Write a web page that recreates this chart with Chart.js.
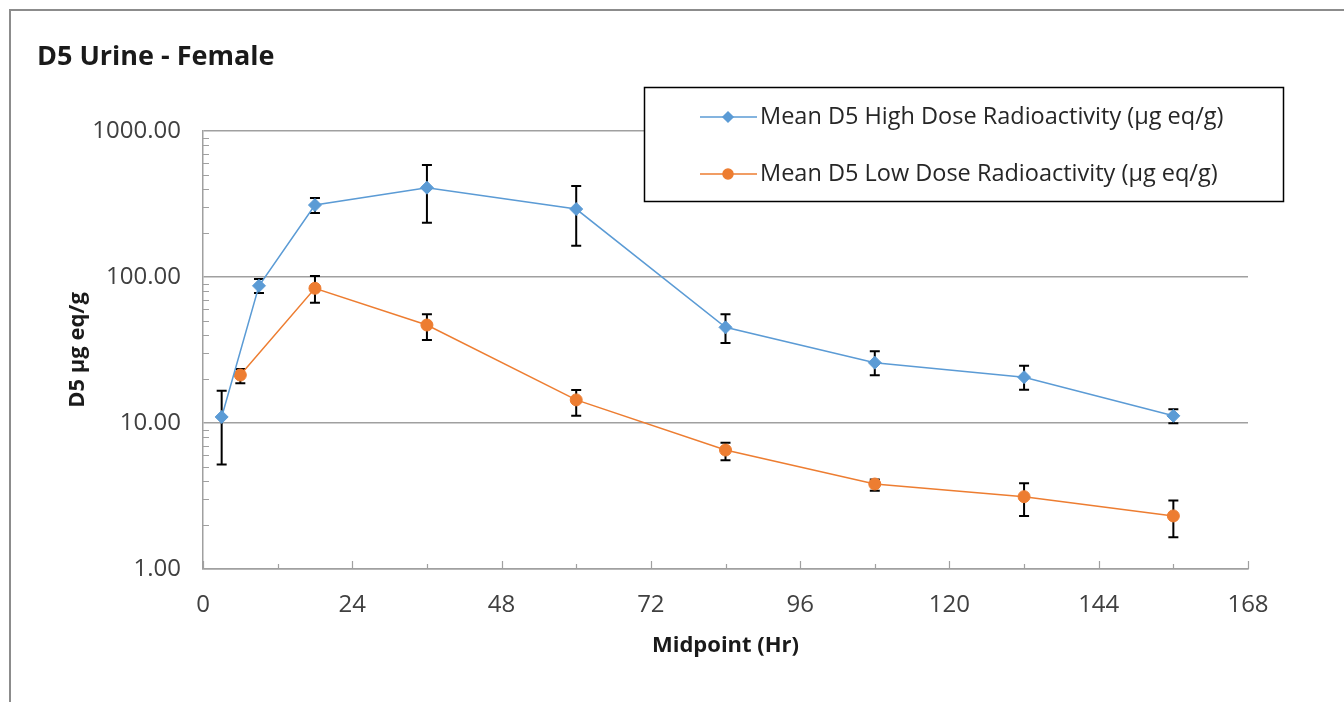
<!DOCTYPE html>
<html>
<head>
<meta charset="utf-8">
<title>D5 Urine - Female</title>
<script src="https://cdn.jsdelivr.net/npm/chart.js@4.4.0/dist/chart.umd.min.js"></script>
<style>
  html, body { margin: 0; padding: 0; background: #fff; }
  #wrap { position: relative; width: 1344px; height: 702px; }
  #frame { position: absolute; left: 9px; top: 9px; right: 0; bottom: 0;
           border-top: 2px solid #8c8c8c; border-left: 2px solid #8c8c8c; pointer-events: none; }
</style>
</head>
<body>
<div id="wrap">
  <canvas id="graph" width="1344" height="702"></canvas>
  <div id="frame"></div>
</div>
<script>
// values
var highHours = [3, 9, 18, 36, 60, 84, 108, 132, 156];
var highMean  = [11.0, 87, 311, 409, 292, 45.2, 25.9, 20.6, 11.2];
var highLo    = [5.2, 77.7, 274, 235, 164, 35.3, 21.2, 16.9, 9.95];
var highHi    = [16.6, 96.9, 348, 585, 420, 55.5, 31, 24.7, 12.4];

var lowHours = [6, 18, 36, 60, 84, 108, 132, 156];
var lowMean  = [21.3, 83.7, 46.9, 14.4, 6.53, 3.82, 3.13, 2.31];
var lowLo    = [18.7, 66.7, 37, 11.2, 5.55, 3.44, 2.31, 1.65];
var lowHi    = [23.4, 101.6, 55.5, 16.8, 7.33, 4.11, 3.86, 2.94];

var yTicks = [1, 10, 100, 1000];
var xStep = 24;

var FONT = "'Open Sans', 'Liberation Sans', sans-serif";
var GRID = '#a0a0a0';
var BLUE = '#5b9bd5';
var ORANGE = '#ed7d31';

var toPoints = function(xs, ys, lo, hi) {
  return xs.map(function(x, i) {
    return { x: x, y: ys[i], lo: lo[i], hi: hi[i] };
  });
};

// error bars, drawn under the markers
var errorBars = {
  id: 'errorBars',
  beforeDatasetsDraw: function(chart) {
    var ctx = chart.ctx;
    var yScale = chart.scales.y;
    ctx.save();
    ctx.strokeStyle = '#000';
    ctx.lineWidth = 2;
    chart.data.datasets.forEach(function(dataset, di) {
      var meta = chart.getDatasetMeta(di);
      meta.data.forEach(function(pt, i) {
        var d = dataset.data[i];
        var yTop = yScale.getPixelForValue(d.hi);
        var yBot = yScale.getPixelForValue(d.lo);
        ctx.beginPath();
        ctx.moveTo(pt.x, yTop);
        ctx.lineTo(pt.x, yBot);
        ctx.moveTo(pt.x - 5, yTop);
        ctx.lineTo(pt.x + 5, yTop);
        ctx.moveTo(pt.x - 5, yBot);
        ctx.lineTo(pt.x + 5, yBot);
        ctx.stroke();
      });
    });
    ctx.restore();
  }
};

// small inside tick marks like the original
var insideTicks = {
  id: 'insideTicks',
  beforeDatasetsDraw: function(chart) {
    var ctx = chart.ctx;
    var area = chart.chartArea;
    var xs = chart.scales.x, ys = chart.scales.y;
    ctx.save();
    ctx.strokeStyle = GRID;
    ctx.lineWidth = 1.2;
    ctx.beginPath();
    yTicks.forEach(function(v) {
      for (var m = 2; m <= 9; m++) {
        if (v * m > ys.max) continue;
        var py = Math.round(ys.getPixelForValue(v * m)) + 0.5;
        ctx.moveTo(area.left, py);
        ctx.lineTo(area.left + 6, py);
      }
    });
    xs.ticks.forEach(function(t) {
      var px = Math.round(xs.getPixelForValue(t.value)) + 0.5;
      ctx.moveTo(px, area.bottom);
      ctx.lineTo(px, area.bottom - 8);
      if (t.value > xs.min) {
        var pm = Math.round(xs.getPixelForValue(t.value - xStep / 2)) + 0.5;
        ctx.moveTo(pm, area.bottom);
        ctx.lineTo(pm, area.bottom - 5);
      }
    });
    ctx.stroke();
    ctx.restore();
  }
};

// boxed legend inside the plot, top right
var boxLegend = {
  id: 'boxLegend',
  afterDraw: function(chart) {
    var ctx = chart.ctx;
    var area = chart.chartArea;
    var left = area.right - 604, top = area.top - 44, w = 639, h = 114;
    ctx.save();
    ctx.fillStyle = '#fff';
    ctx.fillRect(left, top, w, h);
    ctx.strokeStyle = '#000';
    ctx.lineWidth = 1.5;
    ctx.strokeRect(left + 0.5, top + 0.5, w, h);
    chart.data.datasets.forEach(function(ds, i) {
      var cy = top + 30 + i * 57;
      ctx.strokeStyle = ds.borderColor;
      ctx.lineWidth = 1.5;
      ctx.beginPath();
      ctx.moveTo(left + 56, cy);
      ctx.lineTo(left + 113, cy);
      ctx.stroke();
      ctx.fillStyle = ds.pointBackgroundColor;
      ctx.strokeStyle = ds.pointBorderColor;
      Chart.helpers.drawPoint(ctx, { pointStyle: ds.pointStyle, radius: 5, borderWidth: 1, rotation: 0 }, left + 84, cy);
      ctx.fillStyle = '#262626';
      ctx.font = '23.5px ' + FONT;
      ctx.textBaseline = 'middle';
      ctx.textAlign = 'left';
      ctx.fillText(ds.label, left + 116, cy);
    });
    ctx.restore();
  }
};

var ctx = document.getElementById('graph').getContext('2d');
var chart = new Chart(ctx, {
  type: 'line',
  data: {
    datasets: [{
      label: 'Mean D5 High Dose Radioactivity (µg eq/g)',
      data: toPoints(highHours, highMean, highLo, highHi),
      borderColor: BLUE,
      borderWidth: 1.5,
      pointStyle: 'rectRot',
      pointRadius: 6.5,
      pointBackgroundColor: BLUE,
      pointBorderColor: BLUE,
      pointBorderWidth: 1,
      tension: 0
    }, {
      label: 'Mean D5 Low Dose Radioactivity (µg eq/g)',
      data: toPoints(lowHours, lowMean, lowLo, lowHi),
      borderColor: ORANGE,
      borderWidth: 1.5,
      pointStyle: 'circle',
      pointRadius: 6,
      pointBackgroundColor: ORANGE,
      pointBorderColor: ORANGE,
      pointBorderWidth: 1,
      tension: 0
    }]
  },
  options: {
    responsive: false,
    animation: false,
    layout: { padding: { left: 37, right: 96, top: 10, bottom: 30 } },
    plugins: {
      legend: { display: false },
      tooltip: { enabled: false },
      title: {
        display: true,
        text: 'D5 Urine - Female',
        align: 'start',
        color: '#1a1a1a',
        font: { family: FONT, size: 27, weight: 'bold' },
        padding: { top: 30.8, bottom: 57.8 }
      }
    },
    scales: {
      x: {
        type: 'linear',
        min: 0,
        max: 168,
        ticks: { stepSize: xStep, padding: 22, color: '#404040', font: { family: FONT, size: 24 } },
        grid: { display: false, drawTicks: false },
        border: { display: true, color: GRID, width: 1.5 },
        title: {
          display: true,
          text: 'Midpoint (Hr)',
          color: '#1a1a1a',
          font: { family: FONT, size: 22, weight: 'bold' },
          padding: { top: 4, bottom: 13 }
        },
        afterFit: function(scale) { scale.height = 103; }
      },
      y: {
        type: 'logarithmic',
        min: 1,
        max: 1000,
        afterBuildTicks: function(scale) {
          scale.ticks = yTicks.map(function(v) { return { value: v }; });
        },
        ticks: {
          padding: 22,
          color: '#404040',
          font: { family: FONT, size: 24 },
          callback: function(value) { return Number(value).toFixed(2); }
        },
        grid: { color: GRID, lineWidth: 1.5, drawTicks: false },
        border: { display: true, color: GRID, width: 1.5 },
        title: {
          display: true,
          text: 'D5 µg eq/g',
          color: '#1a1a1a',
          font: { family: FONT, size: 22, weight: 'bold' },
          padding: { top: 28, bottom: 0 }
        },
        afterFit: function(scale) { scale.width = 166; }
      }
    }
  },
  plugins: [errorBars, insideTicks, boxLegend]
});
</script>
</body>
</html>
